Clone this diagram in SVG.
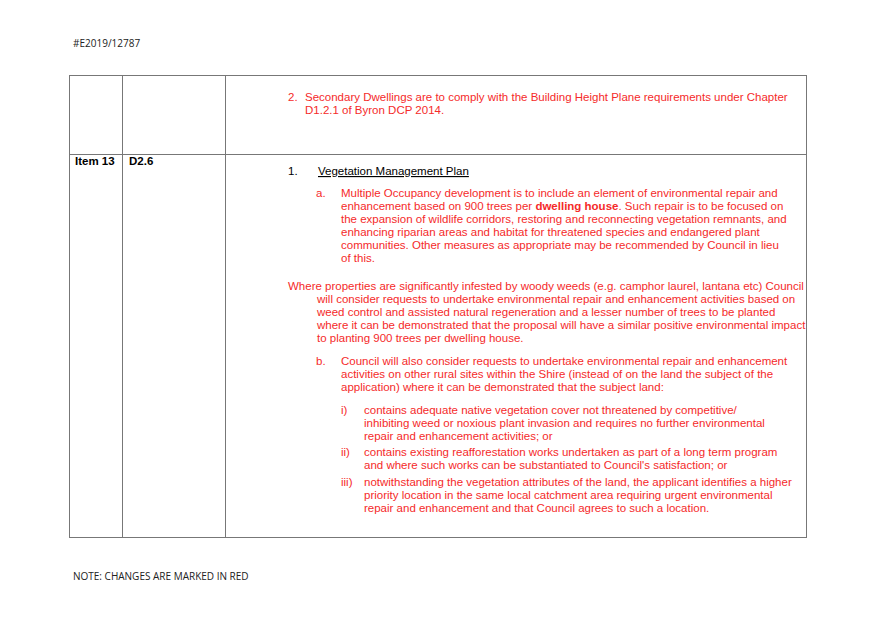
<svg xmlns="http://www.w3.org/2000/svg" width="875" height="619" viewBox="0 0 875 619">
<style>
.r{font-family:"Liberation Sans",Arial,sans-serif;font-size:11.5px;fill:#f52a2a}
.k{font-family:"Liberation Sans",Arial,sans-serif;font-size:11.5px;fill:#000}
.h{font-family:"Open Sans","Liberation Sans",sans-serif;font-size:10px;fill:#222}
.b{font-weight:bold}
line{stroke:#777;stroke-width:1}
</style>
<rect width="875" height="619" fill="#fff"/>
<text class="h" x="73" y="47">#E2019/12787</text>
<g id="table">
<rect x="69.5" y="75.5" width="737" height="462" fill="none" stroke="#777"/>
<line x1="122.5" y1="75" x2="122.5" y2="538"/>
<line x1="225.5" y1="75" x2="225.5" y2="538"/>
<line x1="69" y1="154.5" x2="807" y2="154.5"/>
</g>
<g id="row1">
<text class="r" x="288" y="101">2.</text>
<text class="r" x="305" y="101">Secondary Dwellings are to comply with the Building Height Plane requirements under Chapter</text>
<text class="r" x="305" y="114">D1.2.1 of Byron DCP 2014.</text>
</g>
<g id="row2">
<text class="k b" x="75" y="165">Item 13</text>
<text class="k b" x="129" y="165">D2.6</text>
<text class="k" x="288" y="175">1.</text>
<text class="k" x="318" y="175" text-decoration="underline">Vegetation Management Plan</text>
<text class="r" x="316" y="197">a.</text>
<text class="r" x="341" y="197">Multiple Occupancy development is to include an element of environmental repair and</text>
<text class="r" x="341" y="210">enhancement based on 900 trees per <tspan class="b">dwelling house</tspan>. Such repair is to be focused on</text>
<text class="r" x="341" y="223">the expansion of wildlife corridors, restoring and reconnecting vegetation remnants, and</text>
<text class="r" x="341" y="236">enhancing riparian areas and habitat for threatened species and endangered plant</text>
<text class="r" x="341" y="249">communities. Other measures as appropriate may be recommended by Council in lieu</text>
<text class="r" x="341" y="262">of this.</text>
<text class="r" x="288" y="290">Where properties are significantly infested by woody weeds (e.g. camphor laurel, lantana etc) Council</text>
<text class="r" x="317" y="303">will consider requests to undertake environmental repair and enhancement activities based on</text>
<text class="r" x="317" y="316">weed control and assisted natural regeneration and a lesser number of trees to be planted</text>
<text class="r" x="317" y="329">where it can be demonstrated that the proposal will have a similar positive environmental impact</text>
<text class="r" x="317" y="342">to planting 900 trees per dwelling house.</text>
<text class="r" x="316" y="365">b.</text>
<text class="r" x="341" y="365">Council will also consider requests to undertake environmental repair and enhancement</text>
<text class="r" x="341" y="378">activities on other rural sites within the Shire (instead of on the land the subject of the</text>
<text class="r" x="341" y="391">application) where it can be demonstrated that the subject land:</text>
<text class="r" x="341" y="414">i)</text>
<text class="r" x="364" y="414">contains adequate native vegetation cover not threatened by competitive/</text>
<text class="r" x="364" y="427">inhibiting weed or noxious plant invasion and requires no further environmental</text>
<text class="r" x="364" y="440">repair and enhancement activities; or</text>
<text class="r" x="341" y="456">ii)</text>
<text class="r" x="364" y="456">contains existing reafforestation works undertaken as part of a long term program</text>
<text class="r" x="364" y="469">and where such works can be substantiated to Council's satisfaction; or</text>
<text class="r" x="341" y="486">iii)</text>
<text class="r" x="364" y="486">notwithstanding the vegetation attributes of the land, the applicant identifies a higher</text>
<text class="r" x="364" y="499">priority location in the same local catchment area requiring urgent environmental</text>
<text class="r" x="364" y="512">repair and enhancement and that Council agrees to such a location.</text>
</g>
<text class="h" x="73" y="580">NOTE: CHANGES ARE MARKED IN RED</text>
</svg>
